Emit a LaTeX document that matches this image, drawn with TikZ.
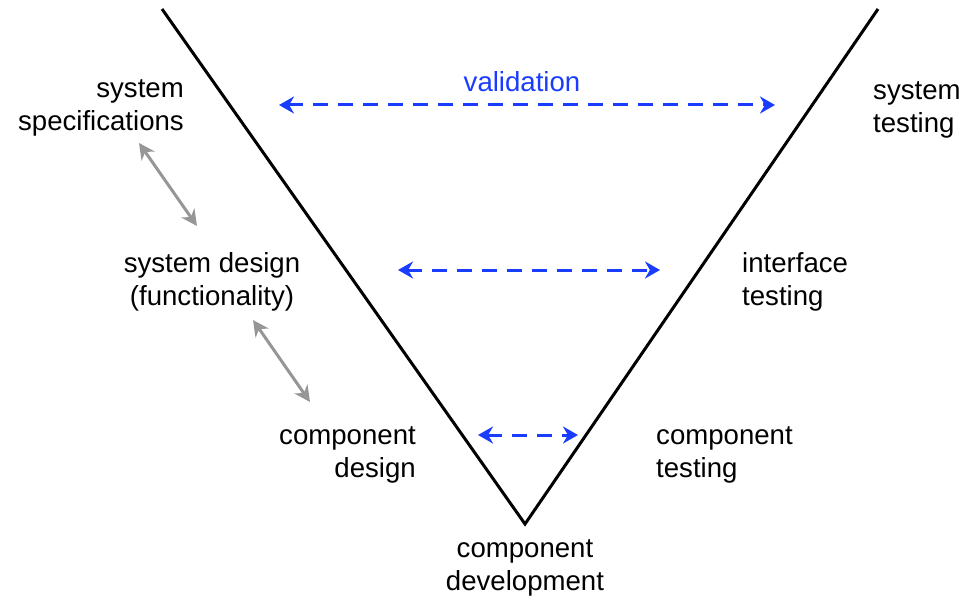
\documentclass[tikz,border=0pt]{standalone}
\usepackage{fontspec}
\setmainfont{Liberation Sans}
\usetikzlibrary{arrows.meta}
\definecolor{vblue}{RGB}{25,60,255}
\definecolor{vgray}{RGB}{150,150,150}
\begin{document}
\begin{tikzpicture}[x=1pt,y=-1pt,
  lbl/.style={font=\fontsize{27.6}{32.5}\selectfont, inner sep=0pt},
  vline/.style={line width=3pt, black, line join=miter},
  valid/.style={vblue, line width=3pt, dash pattern=on 15pt off 10pt,
    {Stealth[length=15pt,width=17pt]}-{Stealth[length=15pt,width=17pt]}},
  link/.style={vgray, line width=3pt,
    {Stealth[length=16pt,width=16pt]}-{Stealth[length=16pt,width=16pt]}}
]
\useasboundingbox (0,0) rectangle (976,599);

% the V of the development process
\coordinate (tl) at (162,9);
\coordinate (bot) at (525,524);
\coordinate (tr) at (878,9);
\draw[vline] (tl) -- (bot) -- (tr);

% phase labels (anchored on the baseline of the last line)
\node[lbl, align=right, anchor=base east] (spec) at (184,130) {system\\specifications};
\node[lbl, align=center, anchor=base] (sysd) at (212,305) {system design\\(functionality)};
\node[lbl, align=right, anchor=base east] (cdes) at (416,477) {component\\design};
\node[lbl, align=center, anchor=base] (cdev) at (525,590) {component\\development};
\node[lbl, align=left, anchor=base west] (ctest) at (656,477) {component\\testing};
\node[lbl, align=left, anchor=base west] (itest) at (742,305) {interface\\testing};
\node[lbl, align=left, anchor=base west] (stest) at (873,132) {system\\testing};
\node[lbl, text=vblue, anchor=base] (val) at (522,92) {validation};

% validation links across the V
\coordinate (v1l) at (279,105);
\coordinate (v1r) at (775,105);
\coordinate (v2l) at (398,270);
\coordinate (v2r) at (660,270);
\coordinate (v3l) at (478,435);
\coordinate (v3r) at (578,435);
\draw[valid] (v1l) -- (v1r);
\draw[valid] (v2l) -- (v2r);
\draw[valid] (v3l) -- (v3r);

% refinement links between design levels
\coordinate (g1a) at (139,143);
\coordinate (g1b) at (197,226);
\coordinate (g2a) at (253,320);
\coordinate (g2b) at (310,402);
\draw[link] (g1a) -- (g1b);
\draw[link] (g2a) -- (g2b);
\end{tikzpicture}
\end{document}
